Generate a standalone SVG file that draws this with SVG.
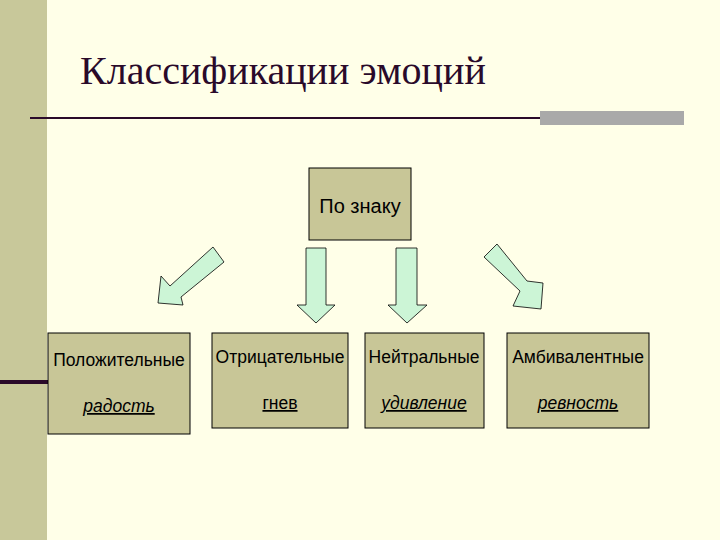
<svg xmlns="http://www.w3.org/2000/svg" width="720" height="540" viewBox="0 0 720 540">
<style>
.box{fill:#c8c697;stroke:#000;stroke-width:1}
.arr{fill:#ccf5d6;stroke:#000;stroke-width:0.8}
.t{font-family:"Liberation Sans",Arial,sans-serif;font-size:17.5px;fill:#000;text-anchor:middle}
.i{font-style:italic;text-decoration:underline}
.u{text-decoration:underline}
.title{font-family:"Liberation Serif","Times New Roman",serif;font-size:40px;fill:#2a0a2a}
</style>
<rect width="720" height="540" fill="#ffffe8"/>
<rect x="0" y="0" width="47" height="540" fill="#c8c89a"/>
<rect x="0" y="380" width="48" height="4" fill="#2a0a2a"/>
<rect x="30" y="117" width="510" height="2" fill="#2a0a2a"/>
<rect x="540" y="111" width="144" height="14" fill="#a9a9a9"/>
<text class="title" x="80" y="84">Классификации эмоций</text>
<g id="connectors">
<polygon class="arr" points="213,247 224,262 181,297 183,305 158,303 161,276 170,286"/>
<polygon class="arr" points="306,248 326,248 326,305 335,305 316,323 297,305 306,305"/>
<polygon class="arr" points="396,248 417,248 417,305 427,305 407,323 388,305 396,305"/>
<polygon class="arr" points="484,257 497,244 527,281 543,283 541,309 513,306 520,291"/>
</g>
<g id="top"><rect class="box" x="309" y="168" width="102" height="72"/><text class="t" x="360" y="213" style="font-size:20px">По знаку</text></g>
<g id="pos"><rect class="box" x="48" y="333" width="142" height="101"/><text class="t" x="119" y="366">Положительные</text><text class="t i" x="119" y="412">радость</text></g>
<g id="neg"><rect class="box" x="212" y="333" width="136" height="95"/><text class="t" x="280" y="363">Отрицательные</text><text class="t u" x="280" y="409">гнев</text></g>
<g id="neu"><rect class="box" x="365" y="333" width="119" height="95"/><text class="t" x="424" y="363">Нейтральные</text><text class="t i" x="424" y="409">удивление</text></g>
<g id="amb"><rect class="box" x="507" y="333" width="142" height="95"/><text class="t" x="578" y="363">Амбивалентные</text><text class="t i" x="578" y="409">ревность</text></g>
</svg>
